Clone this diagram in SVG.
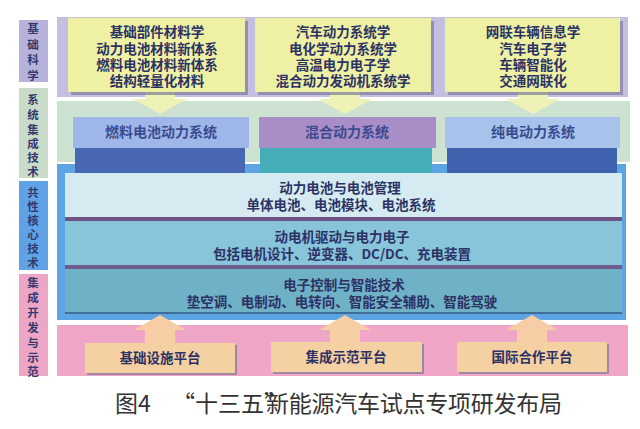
<svg xmlns="http://www.w3.org/2000/svg" width="640" height="429" viewBox="0 0 640 429">
<style>
.lbl{font-family:"Noto Sans CJK SC","Noto Sans",sans-serif;font-size:11.5px;font-weight:700;fill:#34386e;text-anchor:middle}
.box{font-family:"Noto Sans CJK SC","Noto Sans",sans-serif;font-size:13.5px;font-weight:700;fill:#2c3264;text-anchor:middle}
.sys{font-family:"Noto Sans CJK SC","Noto Sans",sans-serif;font-size:14px;font-weight:700;fill:#3a4a8e;text-anchor:middle}
.title{font-family:"Noto Sans CJK SC","Noto Sans",sans-serif;font-size:23px;fill:#333}
.shadow{fill:#7f7a98;opacity:0.7}
.yb{fill:#eef0a3}
.pb{fill:#f5d0a3}
.dn{fill:#eff2b6}
.up{fill:#f6cda4}
</style>
<rect width="640" height="429" fill="#ffffff"/>

<g id="side-labels">
  <g id="label-jichukexue">
    <rect x="19" y="20" width="29" height="62" fill="#b7b2da"/>
    <text class="lbl" x="33" y="33"><tspan x="33" y="33">基</tspan><tspan x="33" y="49">础</tspan><tspan x="33" y="64">科</tspan><tspan x="33" y="80">学</tspan></text>
  </g>
  <g id="label-xitongjicheng">
    <rect x="19" y="88" width="29" height="90" fill="#c9dcc9"/>
    <text class="lbl" x="33" y="104"><tspan x="33" y="104">系</tspan><tspan x="33" y="119">统</tspan><tspan x="33" y="134">集</tspan><tspan x="33" y="148">成</tspan><tspan x="33" y="162">技</tspan><tspan x="33" y="176">术</tspan></text>
  </g>
  <g id="label-gongxing">
    <rect x="19" y="181" width="29" height="89" fill="#5fa3e6"/>
    <text class="lbl" x="33" y="197"><tspan x="33" y="197">共</tspan><tspan x="33" y="211">性</tspan><tspan x="33" y="225">核</tspan><tspan x="33" y="239">心</tspan><tspan x="33" y="253">技</tspan><tspan x="33" y="267">术</tspan></text>
  </g>
  <g id="label-jichengkaifa">
    <rect x="19" y="274" width="29" height="102" fill="#eda6c6"/>
    <text class="lbl" x="33" y="287"><tspan x="33" y="287">集</tspan><tspan x="33" y="302">成</tspan><tspan x="33" y="317">开</tspan><tspan x="33" y="332">发</tspan><tspan x="33" y="347">与</tspan><tspan x="33" y="362">示</tspan><tspan x="33" y="376">范</tspan></text>
  </g>
</g>

<g id="bands">
  <rect x="57" y="17" width="571" height="80" fill="#c4bee0"/>
  <rect x="57" y="101" width="573" height="61" fill="#cde2d0"/>
  <rect x="57" y="164" width="569" height="156" fill="#5ca5e2"/>
  <rect x="57" y="325" width="571" height="51" fill="#efa6c7"/>
</g>

<g id="connectors">
  <path class="dn" d="M145,92 L175,92 L175,99 L187,99 L160,114 L133,99 L145,99 Z"/>
  <path class="dn" d="M330,92 L360,92 L360,99 L372,99 L345,114 L318,99 L330,99 Z"/>
  <path class="dn" d="M518,92 L548,92 L548,99 L560,99 L533,114 L506,99 L518,99 Z"/>
  <path class="up" d="M145,343 L175,343 L175,330 L186,330 L160,315 L134,330 L145,330 Z"/>
  <path class="up" d="M330,342 L360,342 L360,330 L371,330 L345,315 L319,330 L330,330 Z"/>
  <path class="up" d="M517,342 L547,342 L547,330 L558,330 L532,315 L506,330 L517,330 Z"/>
</g>

<g id="basic-1">
  <rect class="shadow" x="71" y="21" width="177" height="74"/>
  <rect class="yb" x="68" y="18" width="177" height="74"/>
  <text class="box" x="157" y="37"><tspan x="157" y="37">基础部件材料学</tspan><tspan x="157" y="54">动力电池材料新体系</tspan><tspan x="157" y="70">燃料电池材料新体系</tspan><tspan x="157" y="86">结构轻量化材料</tspan></text>
</g>
<g id="basic-2">
  <rect class="shadow" x="258" y="21" width="176" height="74"/>
  <rect class="yb" x="255" y="18" width="176" height="74"/>
  <text class="box" x="343" y="37"><tspan x="343" y="37">汽车动力系统学</tspan><tspan x="343" y="54">电化学动力系统学</tspan><tspan x="343" y="70">高温电力电子学</tspan><tspan x="343" y="86">混合动力发动机系统学</tspan></text>
</g>
<g id="basic-3">
  <rect class="shadow" x="448" y="21" width="175" height="74"/>
  <rect class="yb" x="445" y="18" width="175" height="74"/>
  <text class="box" x="533" y="37"><tspan x="533" y="37">网联车辆信息学</tspan><tspan x="533" y="54">汽车电子学</tspan><tspan x="533" y="70">车辆智能化</tspan><tspan x="533" y="86">交通网联化</tspan></text>
</g>

<g id="sys-fuelcell">
  <rect x="75" y="148" width="170" height="25" fill="#4867b3"/>
  <rect x="73" y="117" width="176" height="31" fill="#9fb7e8"/>
  <text class="sys" x="161" y="137">燃料电池动力系统</text>
</g>
<g id="sys-hybrid">
  <rect x="260" y="148" width="172" height="25" fill="#45adb8"/>
  <rect x="259" y="117" width="177" height="31" fill="#a98dc7"/>
  <text class="sys" x="347" y="137">混合动力系统</text>
</g>
<g id="sys-ev">
  <rect x="447" y="148" width="170" height="25" fill="#3f62ae"/>
  <rect x="445" y="117" width="175" height="31" fill="#a7c3ec"/>
  <text class="sys" x="533" y="137">纯电动力系统</text>
</g>

<g id="core-battery">
  <rect x="65" y="173" width="557" height="44" fill="#d5ebf1"/>
  <rect x="65" y="217" width="557" height="4" fill="#6e5284"/>
  <text class="box" x="340" y="193"><tspan x="340" y="193">动力电池与电池管理</tspan><tspan x="341" y="210">单体电池、电池模块、电池系统</tspan></text>
</g>
<g id="core-motor">
  <rect x="65" y="221" width="557" height="44" fill="#88c4da"/>
  <rect x="65" y="265" width="557" height="4" fill="#6e5a8c"/>
  <text class="box" x="342" y="242"><tspan x="342" y="242">动电机驱动与电力电子</tspan><tspan x="342" y="259">包括电机设计、逆变器、DC/DC、充电装置</tspan></text>
</g>
<g id="core-control">
  <rect x="65" y="269" width="557" height="43" fill="#6fb1c6"/>
  <rect x="65" y="312" width="557" height="2" fill="#3f6f98"/>
  <text class="box" x="344" y="290"><tspan x="344" y="290">电子控制与智能技术</tspan><tspan x="342" y="307">垫空调、电制动、电转向、智能安全辅助、智能驾驶</tspan></text>
</g>

<g id="platform-1">
  <rect class="shadow" x="87" y="345" width="150" height="30"/>
  <rect class="pb" x="85" y="343" width="150" height="30"/>
  <text class="box" x="160" y="363">基础设施平台</text>
</g>
<g id="platform-2">
  <rect class="shadow" x="273" y="344" width="151" height="30"/>
  <rect class="pb" x="271" y="342" width="151" height="30"/>
  <text class="box" x="346" y="362">集成示范平台</text>
</g>
<g id="platform-3">
  <rect class="shadow" x="459" y="344" width="150" height="30"/>
  <rect class="pb" x="457" y="342" width="150" height="30"/>
  <text class="box" x="532" y="362">国际合作平台</text>
</g>

<text id="caption" class="title" x="115" y="412"><tspan x="115">图4</tspan><tspan x="172">“十三五”</tspan><tspan x="266" textLength="296" lengthAdjust="spacing">新能源汽车试点专项研发布局</tspan></text>
</svg>
